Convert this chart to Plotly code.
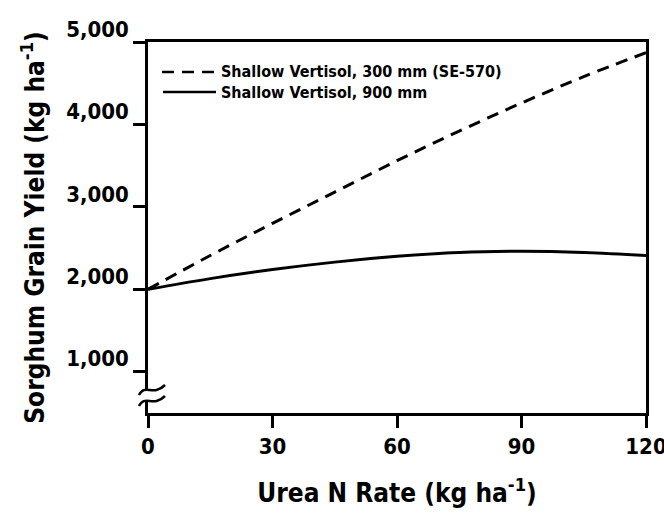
import plotly.graph_objects as go

# Urea N rate (kg ha-1) and sorghum grain yield (kg ha-1) for two soil profiles
n_rate = [0, 15, 30, 45, 60, 75, 90, 105, 120]
yield_300mm = [2000, 2410, 2800, 3180, 3560, 3920, 4260, 4580, 4870]
yield_900mm = [2000, 2130, 2240, 2330, 2400, 2448, 2462, 2448, 2410]

series_names = ["Shallow Vertisol, 300 mm (SE-570)", "Shallow Vertisol, 900 mm"]
x_ticks = [0, 30, 60, 90, 120]
y_ticks = [1000, 2000, 3000, 4000, 5000]

FONT = "DejaVu Sans Condensed, Liberation Sans Narrow, Arial Narrow, sans-serif"
W, H = 664, 514
ML, MR, MT, MB = 148, 18, 42, 101
PW, PH = W - ML - MR, H - MT - MB


def px(x):
    """Pixel column -> paper x."""
    return (x - ML) / PW


def py(y):
    """Pixel row -> paper y."""
    return (H - MB - y) / PH


fig = go.Figure()
fig.add_trace(go.Scatter(
    x=n_rate, y=yield_300mm, mode="lines", name=series_names[0],
    line=dict(color="black", width=3, dash="12px,8px", shape="spline"),
    showlegend=False,
))
fig.add_trace(go.Scatter(
    x=n_rate, y=yield_900mm, mode="lines", name=series_names[1],
    line=dict(color="black", width=3, shape="spline"),
    showlegend=False,
))

shapes = []
# axis break on the y axis
shapes.append(dict(type="rect", xref="paper", yref="paper",
                   x0=px(143), x1=px(157), y0=py(400), y1=py(391),
                   fillcolor="white", line=dict(width=0), layer="above"))
for dy in (0, 11):
    p = (f"M{px(139)},{py(395 + dy)} C{px(145)},{py(383 + dy)} "
         f"{px(153)},{py(397 + dy)} {px(165)},{py(385 + dy)}")
    shapes.append(dict(type="path", xref="paper", yref="paper", path=p,
                       line=dict(color="black", width=2.5), layer="above"))

# legend samples
shapes.append(dict(type="line", xref="paper", yref="paper",
                   x0=px(162), x1=px(215), y0=py(72), y1=py(72),
                   line=dict(color="black", width=2.5, dash="12px,8px")))
shapes.append(dict(type="line", xref="paper", yref="paper",
                   x0=px(163), x1=px(216), y0=py(92), y1=py(92),
                   line=dict(color="black", width=2.5)))

legend_font = dict(family=FONT, size=16, color="black", weight="bold")
annotations = [
    dict(xref="paper", yref="paper", x=px(220), y=py(72), text=series_names[0],
         xanchor="left", yanchor="middle", showarrow=False, font=legend_font,
         borderpad=0),
    dict(xref="paper", yref="paper", x=px(220), y=py(92), text=series_names[1],
         xanchor="left", yanchor="middle", showarrow=False, font=legend_font,
         borderpad=0),
]

axis_common = dict(
    showline=True, linecolor="black", linewidth=2.5, mirror=True,
    ticks="outside", ticklen=12, tickwidth=2.5, tickcolor="black",
    showgrid=False, zeroline=False, ticklabeloverflow="allow",
    automargin=False,
    tickfont=dict(family=FONT, size=22, color="black", weight="bold"),
)
title_font = dict(family=FONT, size=26, color="black", weight="bold")

fig.update_layout(
    width=W, height=H,
    margin=dict(l=ML, r=MR, t=MT, b=MB, pad=0),
    paper_bgcolor="white", plot_bgcolor="white",
    shapes=shapes, annotations=annotations,
    xaxis=dict(
        range=[0, 120], tickvals=x_ticks,
        title=dict(text="Urea N Rate (kg ha<sup>-1</sup>)", font=title_font,
                   standoff=26),
        **axis_common,
    ),
    yaxis=dict(
        range=[500, 5000], tickvals=y_ticks, tickformat=",d",
        ticklabelshift=-13,
        title=dict(text="Sorghum Grain Yield (kg ha<sup>-1</sup>)", font=title_font),
        **axis_common,
    ),
)

fig.write_html("out.html")
